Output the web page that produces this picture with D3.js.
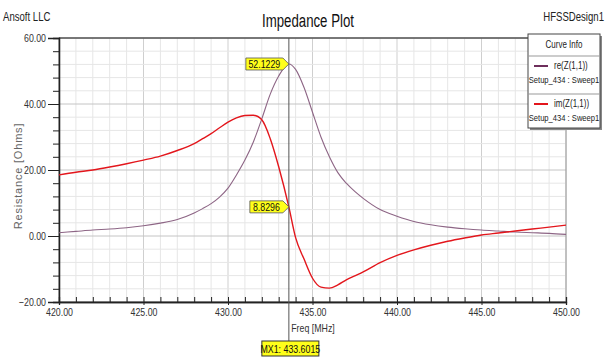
<!DOCTYPE html>
<html>
<head>
<meta charset="utf-8">
<script src="https://cdn.jsdelivr.net/npm/d3@7"></script>
<style>
  body { margin: 0; background: #fff; }
  text { font-family: "Liberation Sans", Arial, sans-serif; }
</style>
</head>
<body>
<div id="chart-area"></div>
<script>
// frequencies (MHz) and values
var freq = [420, 421, 422, 423, 424, 425, 426, 427, 428, 428.5, 429, 429.5, 430, 430.5, 431, 431.5,
            432, 432.5, 433, 433.6, 434, 434.5, 435, 435.5, 436, 436.5, 437, 437.5, 438, 439,
            440, 441, 442, 443, 444, 445, 446, 447, 448, 449, 450];
var reZ = [1.0, 1.4, 1.8, 2.1, 2.5, 3.1, 3.9, 5.0, 7.0, 8.3, 9.8, 11.8, 14.5, 18.5, 23.0, 28.5,
           35.5, 43.0, 48.5, 52.12, 50.5, 45.0, 37.5, 30.0, 24.0, 19.2, 16.0, 13.5, 11.4, 8.0,
           6.0, 4.4, 3.4, 2.7, 2.2, 1.8, 1.5, 1.2, 1.0, 0.8, 0.5];
var imZ = [18.5, 19.3, 20.0, 20.9, 21.9, 23.0, 24.2, 25.9, 28.0, 29.5, 31.0, 32.8, 34.5, 35.8, 36.5, 36.6,
           35.2, 29.5, 21.0, 8.83, -0.5, -7.0, -12.8, -15.5, -15.8, -14.8, -13.3, -12.1, -10.9, -8.1,
           -5.9, -4.2, -2.8, -1.6, -0.6, 0.3, 0.9, 1.5, 2.1, 2.7, 3.3];
var xTicks = [420, 425, 430, 435, 440, 445, 450];
var yTicks = [-20, 0, 20, 40, 60];
var markerFreq = 433.6015;
var markerVals = [52.1229, 8.8296];
var legendNames = ["re(Z(1,1))", "im(Z(1,1))"];
var legendSetup = "Setup_434 : Sweep1";
var colors = ["#8d6585", "#e3161c"];
var legendColors = ["#6e2f5c", "#e3161c"];

var width = 607, height = 360;
var svg = d3.select("#chart-area").append("svg")
    .attr("width", width)
    .attr("height", height);

var x = d3.scaleLinear().domain([420, 450]).range([59, 566]);
var y = d3.scaleLinear().domain([-20, 60]).range([302, 38]);

// grid
var g = svg.append("g");
g.selectAll(".vgrid").data(d3.range(420, 451, 1)).enter()
    .append("line")
    .attr("x1", d => x(d)).attr("x2", d => x(d))
    .attr("y1", y(60)).attr("y2", y(-20))
    .attr("stroke", d => d % 5 == 0 ? "#cfcfcf" : "#e6e6e6");
g.selectAll(".hgrid").data(d3.range(-20, 61, 4)).enter()
    .append("line")
    .attr("x1", x(420)).attr("x2", x(450))
    .attr("y1", d => y(d)).attr("y2", d => y(d))
    .attr("stroke", d => d % 20 == 0 ? "#c4c4c4" : "#e6e6e6");

// frame
g.append("rect")
    .attr("x", x(420)).attr("y", y(60))
    .attr("width", x(450) - x(420)).attr("height", y(-20) - y(60))
    .attr("fill", "none").attr("stroke", "#9a9a9a");
g.append("line").attr("x1", x(420)).attr("x2", x(450)).attr("y1", y(60)).attr("y2", y(60))
    .attr("stroke", "#333");

// left axis: minor ticks every 4, labels on majors
var leftAxis = d3.axisLeft(y)
    .tickValues(d3.range(-20, 61, 4))
    .tickSize(6)
    .tickFormat(d => "");
svg.append("g")
    .attr("class", "left axis")
    .attr("transform", "translate(" + x(420) + ",0)")
    .call(leftAxis);
var leftMajor = d3.axisLeft(y)
    .tickValues(yTicks)
    .tickSize(11)
    .tickPadding(2)
    .tickFormat(d => d3.format(".2f")(d));
svg.append("g")
    .attr("class", "left axis major")
    .attr("transform", "translate(" + x(420) + ",0)")
    .call(leftMajor);

// bottom axis: minor ticks inside, labels on majors
var bottomMinor = d3.axisBottom(x)
    .tickValues(d3.range(420, 451, 1))
    .tickSize(-5)
    .tickFormat(d => "");
svg.append("g")
    .attr("class", "bottom axis")
    .attr("transform", "translate(0," + y(-20) + ")")
    .call(bottomMinor);
var bottomAxis = d3.axisBottom(x)
    .tickValues(xTicks)
    .tickSize(3)
    .tickPadding(3)
    .tickFormat(d => d3.format(".2f")(d));
svg.append("g")
    .attr("class", "bottom axis major")
    .attr("transform", "translate(0," + y(-20) + ")")
    .call(bottomAxis);

svg.selectAll(".axis path").attr("stroke", "#222").attr("stroke-width", 1.3);
svg.selectAll(".axis line").attr("stroke", "#222");
svg.selectAll(".axis text").attr("font-size", "11px").attr("fill", "#333")
    .style("font-family", "'Liberation Sans', Arial, sans-serif");

// curves
var series = [reZ, imZ];
var line = d3.line()
    .x((d, i) => x(freq[i]))
    .y(d => y(d))
    .curve(d3.curveMonotoneX);
svg.selectAll(".curve").data(series).enter()
    .append("path")
    .attr("class", "curve")
    .attr("d", d => line(d))
    .attr("fill", "none")
    .attr("stroke", (d, i) => colors[i])
    .attr("stroke-width", (d, i) => i == 0 ? 1.1 : 1.4);

// marker line
var mx = x(markerFreq);
svg.append("line")
    .attr("x1", mx).attr("x2", mx)
    .attr("y1", y(60)).attr("y2", 341)
    .attr("stroke", "#555").attr("stroke-width", 1);

// marker value flags
markerVals.forEach(v => {
    var py = y(v);
    var w = v > 10 ? 43 : 39, h = 12;
    svg.append("path")
        .attr("d", "M" + mx + "," + py + " L" + (mx - 6) + "," + (py - h / 2) + " L" + (mx - w) + "," + (py - h / 2) +
            " L" + (mx - w) + "," + (py + h / 2) + " L" + (mx - 6) + "," + (py + h / 2) + " Z")
        .attr("fill", "#ffff1a").attr("stroke", "#555").attr("stroke-width", 0.8);
    svg.append("text")
        .attr("x", mx - w / 2 - 3).attr("y", py + 4)
        .attr("text-anchor", "middle")
        .attr("font-size", "11px")
        .attr("fill", "#111")
        .text(d3.format(".4f")(v));
});

// marker label at bottom
svg.append("rect")
    .attr("x", mx - 27).attr("y", 341).attr("width", 57).attr("height", 15)
    .attr("fill", "#ffff1a").attr("stroke", "#333").attr("stroke-width", 1);
svg.append("text")
    .attr("x", mx + 1.5).attr("y", 353)
    .attr("text-anchor", "middle").attr("font-size", "11px").attr("fill", "#111")
    .text("MX1: " + d3.format(".4f")(markerFreq));

// titles
svg.append("text").attr("x", 3).attr("y", 21).attr("font-size", "12px").attr("fill", "#222").text("Ansoft LLC");
svg.append("text").attr("class", "title").attr("x", 308).attr("y", 27).attr("text-anchor", "middle")
    .attr("font-size", "18px").attr("fill", "#111").text("Impedance Plot");
svg.append("text").attr("x", 604).attr("y", 21).attr("text-anchor", "end")
    .attr("font-size", "12px").attr("fill", "#222").text("HFSSDesign1");

// axis labels
svg.append("text")
    .attr("x", 313).attr("y", 332)
    .attr("text-anchor", "middle").attr("font-size", "11px").attr("fill", "#333")
    .text("Freq [MHz]");

// legend
var lg = svg.append("g").attr("transform", "translate(528,34)");
lg.append("rect").attr("x", 2).attr("y", 2).attr("width", 72).attr("height", 94).attr("fill", "#888");
lg.append("rect").attr("x", 0).attr("y", 0).attr("width", 72).attr("height", 94)
    .attr("fill", "#fff").attr("stroke", "#444");
lg.append("text").attr("x", 36).attr("y", 14).attr("text-anchor", "middle")
    .attr("font-size", "10px").attr("fill", "#222").text("Curve Info");
lg.selectAll(".sep").data([22, 60]).enter().append("line")
    .attr("x1", 0).attr("x2", 72).attr("y1", d => d).attr("y2", d => d)
    .attr("stroke", "#999");
legendNames.forEach((name, i) => {
    var top = i == 0 ? 22 : 60;
    lg.append("line").attr("x1", 6).attr("x2", 20).attr("y1", top + 10).attr("y2", top + 10)
        .attr("stroke", legendColors[i]).attr("stroke-width", 2);
    lg.append("text").attr("x", 26).attr("y", top + 13).attr("font-size", "10px").attr("fill", "#222").text(name);
    lg.append("text").attr("x", 36).attr("y", top + 27).attr("text-anchor", "middle")
        .attr("font-size", "9.5px").attr("fill", "#222").text(legendSetup);
});

// the original uses a narrow face: squeeze every text horizontally round its anchor
svg.selectAll("text").each(function() {
    var t = d3.select(this);
    if (t.text() === "") return;
    var k = 0.8;
    if (t.classed("title")) k = 92 / this.getComputedTextLength();
    var ax = +(t.attr("x") || 0);
    t.attr("transform", "translate(" + ax + ",0) scale(" + k + ",1) translate(" + (-ax) + ",0)");
});

// y label keeps a normal, slightly spaced face
svg.append("text")
    .attr("transform", "translate(22,176) rotate(-90)")
    .attr("text-anchor", "middle")
    .attr("font-size", "11px").attr("fill", "#666")
    .style("letter-spacing", "0.8px")
    .text("Resistance [Ohms]");
</script>
</body>
</html>
